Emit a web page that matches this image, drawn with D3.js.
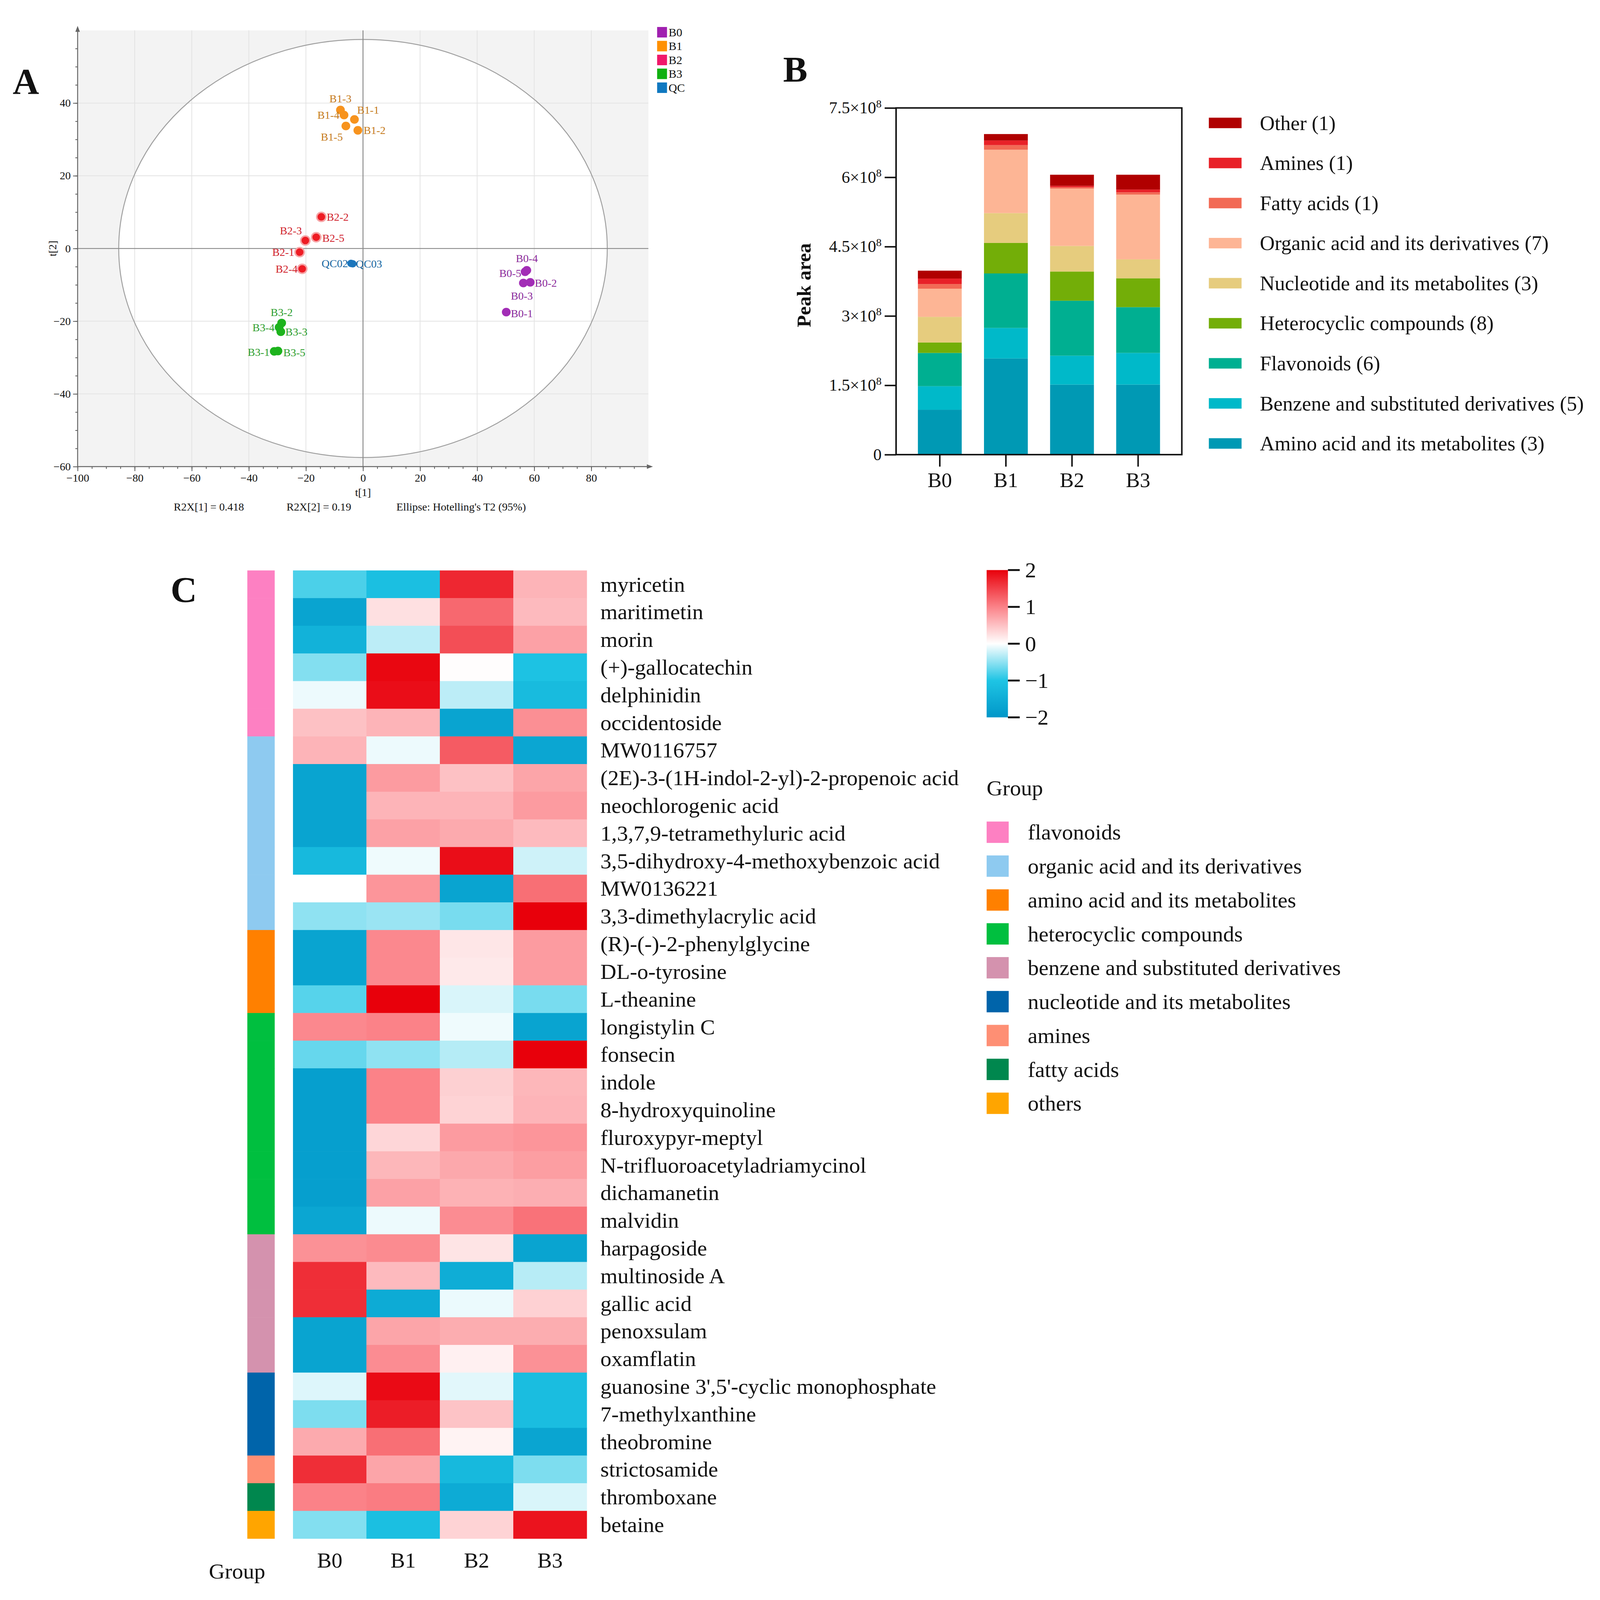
<!DOCTYPE html>
<html>
<head>
<meta charset="utf-8">
<script src="https://cdn.jsdelivr.net/npm/d3@7"></script>
<style>
  html, body { margin: 0; padding: 0; background: #fff; overflow: hidden; }
  #fig { display: block; width: 100vw; height: 100vh; }
  text { font-family: "Liberation Serif", "Times New Roman", serif; fill: #111; }
</style>
</head>
<body>
<svg id="fig" viewBox="0 0 4205 4269" preserveAspectRatio="none"></svg>
<script>
// ---------- panel A: PCA scores ----------
const sampleNames = ['B0-1', 'B0-2', 'B0-3', 'B0-4', 'B0-5',
  'B1-1', 'B1-2', 'B1-3', 'B1-4', 'B1-5',
  'B2-1', 'B2-2', 'B2-3', 'B2-4', 'B2-5',
  'B3-1', 'B3-2', 'B3-3', 'B3-4', 'B3-5',
  'QC02', 'QC03']
const sampleGroup = ['B0', 'B0', 'B0', 'B0', 'B0', 'B1', 'B1', 'B1', 'B1', 'B1',
  'B2', 'B2', 'B2', 'B2', 'B2', 'B3', 'B3', 'B3', 'B3', 'B3', 'QC', 'QC']
const t1 = [50.2, 58.6, 56.2, 57.4, 56.8, -3.0, -1.8, -7.9, -6.65, -6.0,
  -22.2, -14.6, -20.2, -21.3, -16.4, -31.1, -28.5, -28.8, -29.4, -29.8, -4.2, -3.6]
const t2 = [-17.5, -9.3, -9.5, -6.0, -6.4, 35.5, 32.5, 38.1, 36.7, 33.7,
  -1.0, 8.7, 2.2, -5.6, 3.1, -28.3, -20.5, -22.9, -21.7, -28.2, -4.1, -4.2]
const pcaGroups = ['B0', 'B1', 'B2', 'B3', 'QC']
const ellipseT1 = 85.6
const ellipseT2 = 57.5
const pcaXTicks = [-100, -80, -60, -40, -20, 0, 20, 40, 60, 80]
const pcaYTicks = [-60, -40, -20, 0, 20, 40]

// ---------- panel B: peak area by class ----------
const barGroups = ['B0', 'B1', 'B2', 'B3']
const classKeys = ['amino', 'benzene', 'flavonoids', 'heterocyclic', 'nucleotide', 'organic', 'fatty', 'amines', 'other']
const classLabels = ['Amino acid and its metabolites (3)', 'Benzene and substituted derivatives (5)',
  'Flavonoids (6)', 'Heterocyclic compounds (8)', 'Nucleotide and its metabolites (3)',
  'Organic acid and its derivatives (7)', 'Fatty acids (1)', 'Amines (1)', 'Other (1)']
// peak area, x 1e8, one value per group B0..B3
const amino = [0.97, 2.08, 1.515, 1.515]
const benzene = [0.51, 0.66, 0.625, 0.685]
const flavonoids = [0.72, 1.18, 1.19, 0.99]
const heterocyclic = [0.225, 0.66, 0.63, 0.625]
const nucleotide = [0.555, 0.645, 0.555, 0.41]
const organic = [0.61, 1.37, 1.24, 1.40]
const fatty = [0.10, 0.10, 0.03, 0.05]
const amines = [0.12, 0.10, 0.03, 0.06]
const other = [0.17, 0.14, 0.24, 0.32]
const peakTicks = [0, 1.5e8, 3e8, 4.5e8, 6e8, 7.5e8]

// ---------- panel C: heatmap ----------
const metabolites = ['myricetin', 'maritimetin', 'morin', '(+)-gallocatechin', 'delphinidin', 'occidentoside',
  'MW0116757', '(2E)-3-(1H-indol-2-yl)-2-propenoic acid', 'neochlorogenic acid', '1,3,7,9-tetramethyluric acid',
  '3,5-dihydroxy-4-methoxybenzoic acid', 'MW0136221', '3,3-dimethylacrylic acid',
  '(R)-(-)-2-phenylglycine', 'DL-o-tyrosine', 'L-theanine',
  'longistylin C', 'fonsecin', 'indole', '8-hydroxyquinoline', 'fluroxypyr-meptyl',
  'N-trifluoroacetyladriamycinol', 'dichamanetin', 'malvidin',
  'harpagoside', 'multinoside A', 'gallic acid', 'penoxsulam', 'oxamflatin',
  "guanosine 3',5'-cyclic monophosphate", '7-methylxanthine', 'theobromine',
  'strictosamide', 'thromboxane', 'betaine']
const metaboliteClass = ['flavonoids', 'flavonoids', 'flavonoids', 'flavonoids', 'flavonoids', 'flavonoids',
  'organic acid and its derivatives', 'organic acid and its derivatives', 'organic acid and its derivatives',
  'organic acid and its derivatives', 'organic acid and its derivatives', 'organic acid and its derivatives',
  'organic acid and its derivatives',
  'amino acid and its metabolites', 'amino acid and its metabolites', 'amino acid and its metabolites',
  'heterocyclic compounds', 'heterocyclic compounds', 'heterocyclic compounds', 'heterocyclic compounds',
  'heterocyclic compounds', 'heterocyclic compounds', 'heterocyclic compounds', 'heterocyclic compounds',
  'benzene and substituted derivatives', 'benzene and substituted derivatives', 'benzene and substituted derivatives',
  'benzene and substituted derivatives', 'benzene and substituted derivatives',
  'nucleotide and its metabolites', 'nucleotide and its metabolites', 'nucleotide and its metabolites',
  'amines', 'fatty acids', 'others']
// z-scores, columns B0 B1 B2 B3
const zScores = [
  [-0.8, -1.1, 1.7, 0.6], [-1.7, 0.25, 1.2, 0.55], [-1.4, -0.3, 1.4, 0.75], [-0.55, 1.95, 0.02, -1.05],
  [-0.08, 1.9, -0.3, -1.2], [0.5, 0.6, -1.7, 0.9], [0.6, -0.08, 1.3, -1.65], [-1.7, 0.8, 0.5, 0.72],
  [-1.7, 0.6, 0.6, 0.8], [-1.7, 0.75, 0.68, 0.55], [-1.25, -0.07, 1.9, -0.22], [0.0, 0.85, -1.7, 1.15],
  [-0.5, -0.45, -0.6, 2.0], [-1.7, 0.95, 0.2, 0.8], [-1.7, 0.95, 0.18, 0.8], [-0.75, 2.0, -0.17, -0.6],
  [0.95, 1.0, -0.07, -1.7], [-0.68, -0.5, -0.33, 2.0], [-1.8, 1.0, 0.38, 0.58], [-1.8, 1.0, 0.35, 0.6],
  [-1.8, 0.33, 0.8, 0.85], [-1.8, 0.58, 0.7, 0.78], [-1.8, 0.75, 0.62, 0.65], [-1.65, -0.08, 0.92, 1.12],
  [0.88, 0.93, 0.22, -1.7], [1.65, 0.55, -1.5, -0.32], [1.65, -1.55, -0.09, 0.37], [-1.7, 0.72, 0.66, 0.66],
  [-1.7, 0.92, 0.12, 0.88], [-0.15, 1.92, -0.13, -1.15], [-0.58, 1.78, 0.48, -1.15], [0.68, 1.15, 0.1, -1.68],
  [1.65, 0.72, -1.25, -0.58], [1.0, 1.05, -1.55, -0.17], [-0.55, -1.1, 0.35, 1.85]]
const classOrder = ['flavonoids', 'organic acid and its derivatives', 'amino acid and its metabolites',
  'heterocyclic compounds', 'benzene and substituted derivatives', 'nucleotide and its metabolites',
  'amines', 'fatty acids', 'others']
const colorbarTicks = [2, 1, 0, -1, -2]

// ---------- styles / layout ----------
const pointColor = { B0: '#a22db6', B1: '#f7931e', B2: '#ee1c24', B3: '#1db31d', QC: '#1a75bc' }
const legendColor = { B0: '#a020b0', B1: '#ff9000', B2: '#f0186a', B3: '#10b010', QC: '#1078c0' }
const labelColor = { B0: '#8b2a9b', B1: '#c57a1a', B2: '#d0202a', B3: '#2e9e2e', QC: '#1565a0' }
// label placement per sample: anchor, dx, dy (px)
const labelPlace = {
  'B0-1': ['start', 12, 4], 'B0-2': ['start', 12, 2], 'B0-3': ['middle', -4, 34], 'B0-4': ['middle', 0, -32],
  'B0-5': ['end', -10, 4], 'B1-1': ['start', 7, -25], 'B1-2': ['start', 15, 0], 'B1-3': ['middle', 0, -30],
  'B1-4': ['end', -12, 0], 'B1-5': ['middle', -37, 29], 'B2-1': ['end', -14, 0], 'B2-2': ['start', 14, 0],
  'B2-3': ['middle', -38, -26], 'B2-4': ['end', -12, 0], 'B2-5': ['start', 16, 2], 'B3-1': ['end', -12, 2],
  'B3-2': ['middle', 0, -28], 'B3-3': ['start', 12, 0], 'B3-4': ['end', -12, 0], 'B3-5': ['start', 14, 4],
  'QC02': ['end', -8, 0], 'QC03': ['start', 8, 0]
}
const classColor = {
  amino: '#0099b4', benzene: '#00b9c9', flavonoids: '#00af91', heterocyclic: '#73ae08', nucleotide: '#e6cc7e',
  organic: '#fdb595', fatty: '#f26a55', amines: '#e82128', other: '#b00000'
}
const groupColor = {
  'flavonoids': '#fd80c2', 'organic acid and its derivatives': '#8ecaf0', 'amino acid and its metabolites': '#ff8000',
  'heterocyclic compounds': '#00bf3f', 'benzene and substituted derivatives': '#d492ae',
  'nucleotide and its metabolites': '#0064aa', 'amines': '#fe8f74', 'fatty acids': '#00874e', 'others': '#ffa500'
}

const svg = d3.select('#fig')
svg.append('rect').attr('width', 4205).attr('height', 4269).attr('fill', '#fff')

function panelLabel (txt, x, y) {
  svg.append('text').attr('x', x).attr('y', y).attr('text-anchor', 'middle')
    .attr('font-size', 96).attr('font-weight', 'bold').text(txt)
}

// ================= A =================
const ax = d3.scaleLinear().domain([-100, 100]).range([204, 1704])
const ay = d3.scaleLinear().domain([-60, 60]).range([1245, 81])
const gA = svg.append('g')

gA.append('rect').attr('x', ax(-100)).attr('y', ay(60))
  .attr('width', ax(100) - ax(-100)).attr('height', ay(-60) - ay(60)).attr('fill', '#f3f3f3')
gA.append('ellipse').attr('cx', ax(0)).attr('cy', ay(0))
  .attr('rx', ax(ellipseT1) - ax(0)).attr('ry', ay(0) - ay(ellipseT2)).attr('fill', '#fff')

// grid
gA.selectAll('line.gx').data(d3.range(-80, 81, 20).filter(d => d !== 0)).join('line')
  .attr('x1', d => ax(d)).attr('x2', d => ax(d)).attr('y1', ay(60)).attr('y2', ay(-60))
  .attr('stroke', '#e3e3e3').attr('stroke-width', 2)
gA.selectAll('line.gy').data([-40, -20, 20, 40]).join('line')
  .attr('x1', ax(-100)).attr('x2', ax(100)).attr('y1', d => ay(d)).attr('y2', d => ay(d))
  .attr('stroke', '#e3e3e3').attr('stroke-width', 2)

gA.append('ellipse').attr('cx', ax(0)).attr('cy', ay(0))
  .attr('rx', ax(ellipseT1) - ax(0)).attr('ry', ay(0) - ay(ellipseT2))
  .attr('fill', 'none').attr('stroke', '#a0a0a0').attr('stroke-width', 2.5)

// zero lines
gA.append('line').attr('x1', ax(-100)).attr('x2', ax(100)).attr('y1', ay(0)).attr('y2', ay(0))
  .attr('stroke', '#8c8c8c').attr('stroke-width', 2.5)
gA.append('line').attr('x1', ax(0)).attr('x2', ax(0)).attr('y1', ay(60)).attr('y2', ay(-60))
  .attr('stroke', '#8c8c8c').attr('stroke-width', 2.5)

// axes
function styleAxis (g, size) {
  g.select('.domain').remove()
  g.selectAll('line').attr('stroke', '#555').attr('stroke-width', 2)
  g.selectAll('text').attr('font-size', size).attr('fill', '#222')
    .attr('font-family', '"Liberation Serif", "Times New Roman", serif')
}
const axMinor = gA.append('g').attr('transform', `translate(0,${ay(-60)})`)
  .call(d3.axisBottom(ax).tickValues(d3.range(-100, 100, 5)).tickSize(6).tickFormat(''))
styleAxis(axMinor, 29)
const axMajor = gA.append('g').attr('transform', `translate(0,${ay(-60)})`)
  .call(d3.axisBottom(ax).tickValues(pcaXTicks).tickSize(12).tickPadding(8))
styleAxis(axMajor, 29)
const ayMinor = gA.append('g').attr('transform', `translate(${ax(-100)},0)`)
  .call(d3.axisLeft(ay).tickValues(d3.range(-60, 60, 5)).tickSize(6).tickFormat(''))
styleAxis(ayMinor, 29)
const ayMajor = gA.append('g').attr('transform', `translate(${ax(-100)},0)`)
  .call(d3.axisLeft(ay).tickValues(pcaYTicks).tickSize(12).tickPadding(6))
styleAxis(ayMajor, 29)

// axis lines with arrows
gA.append('line').attr('x1', ax(-100)).attr('x2', ax(100)).attr('y1', ay(-60)).attr('y2', ay(-60))
  .attr('stroke', '#666').attr('stroke-width', 2.5)
gA.append('line').attr('x1', ax(-100)).attr('x2', ax(-100)).attr('y1', ay(-60)).attr('y2', ay(60))
  .attr('stroke', '#666').attr('stroke-width', 2.5)
gA.append('path').attr('d', `M${ax(100) + 12},${ay(-60)} l-16,-6 l0,12 z`).attr('fill', '#666')
gA.append('path').attr('d', `M${ax(-100)},${ay(60) - 12} l-6,16 l12,0 z`).attr('fill', '#666')

// axis titles
gA.append('text').attr('x', ax(0)).attr('y', 1324).attr('text-anchor', 'middle')
  .attr('font-size', 29).attr('fill', '#222').text('t[1]')
gA.append('text').attr('transform', `translate(148,${ay(0)}) rotate(-90)`).attr('text-anchor', 'middle')
  .attr('font-size', 29).attr('fill', '#222').text('t[2]')
gA.append('text').attr('x', 549).attr('y', 1362).attr('text-anchor', 'middle').attr('font-size', 29)
  .text('R2X[1] = 0.418')
gA.append('text').attr('x', 838).attr('y', 1362).attr('text-anchor', 'middle').attr('font-size', 29)
  .text('R2X[2] = 0.19')
gA.append('text').attr('x', 1212).attr('y', 1362).attr('text-anchor', 'middle').attr('font-size', 29)
  .text("Ellipse: Hotelling's T2 (95%)")

// points
const samples = sampleNames.map((n, i) => ({ name: n, group: sampleGroup[i], x: t1[i], y: t2[i] }))
gA.selectAll('circle.pt').data(samples).join('circle')
  .attr('cx', d => ax(d.x)).attr('cy', d => ay(d.y))
  .attr('r', d => d.group === 'B2' ? 12 : d.group === 'QC' ? 10 : 11.5)
  .attr('fill', d => pointColor[d.group])
  .attr('stroke', d => d.group === 'B2' ? '#f6a4a6' : 'none')
  .attr('stroke-width', d => d.group === 'B2' ? 4 : 0)
gA.selectAll('text.pl').data(samples).join('text')
  .attr('x', d => ax(d.x) + labelPlace[d.name][1])
  .attr('y', d => ay(d.y) + labelPlace[d.name][2])
  .attr('text-anchor', d => labelPlace[d.name][0])
  .attr('dominant-baseline', 'central')
  .attr('font-size', 29)
  .style('fill', d => labelColor[d.group])
  .text(d => d.name)

// legend A
const legA = gA.append('g').attr('transform', 'translate(1727,72)')
pcaGroups.forEach((g, i) => {
  legA.append('rect').attr('x', 0).attr('y', i * 37).attr('width', 26).attr('height', 28).attr('fill', legendColor[g])
  legA.append('text').attr('x', 30).attr('y', i * 37 + 14).attr('dominant-baseline', 'central')
    .attr('font-size', 31).text(g)
})
panelLabel('A', 68, 250)

// ================= B =================
const bx = d3.scaleBand().domain(barGroups).range([2355, 3106]).paddingInner(0.337).paddingOuter(0.33)
const by = d3.scaleLinear().domain([0, 7.5e8]).range([1213, 288])
const gB = svg.append('g')
const classSeries = { amino, benzene, flavonoids, heterocyclic, nucleotide, organic, fatty, amines, other }
const barRows = barGroups.map((g, i) => {
  const row = { group: g }
  classKeys.forEach(k => { row[k] = classSeries[k][i] * 1e8 })
  return row
})
const stacked = d3.stack().keys(classKeys)(barRows)
gB.selectAll('g.layer').data(stacked).join('g').attr('fill', d => classColor[d.key])
  .selectAll('rect').data(d => d).join('rect')
  .attr('x', d => bx(d.data.group)).attr('width', bx.bandwidth())
  .attr('y', d => by(d[1])).attr('height', d => by(d[0]) - by(d[1]))

gB.append('rect').attr('x', 2355).attr('y', 288).attr('width', 3106 - 2355).attr('height', 1213 - 288)
  .attr('fill', 'none').attr('stroke', '#111').attr('stroke-width', 4)

const byAxis = gB.append('g').attr('transform', 'translate(2355,0)')
  .call(d3.axisLeft(by).tickValues(peakTicks).tickSize(30).tickPadding(8).tickFormat(''))
byAxis.select('.domain').remove()
byAxis.selectAll('line').attr('stroke', '#111').attr('stroke-width', 4)
byAxis.selectAll('.tick text').attr('font-size', 44).attr('fill', '#111')
  .attr('font-family', '"Liberation Serif", "Times New Roman", serif')
  .each(function (d) {
    const t = d3.select(this)
    if (d === 0) { t.text('0'); return }
    t.append('tspan').text(`${d / 1e8}\u00d710`)
    t.append('tspan').attr('font-size', 29).attr('dy', -16).text('8')
  })
const bxAxis = gB.append('g').attr('transform', 'translate(0,1213)')
  .call(d3.axisBottom(bx).tickSize(32).tickPadding(16))
bxAxis.select('.domain').remove()
bxAxis.selectAll('line').attr('stroke', '#111').attr('stroke-width', 4)
bxAxis.selectAll('text').attr('font-size', 55).attr('fill', '#111')
  .attr('font-family', '"Liberation Serif", "Times New Roman", serif')

gB.append('text').attr('transform', 'translate(2130,761) rotate(-90)').attr('text-anchor', 'middle')
  .attr('font-size', 53).attr('font-weight', 'bold').text('Peak area')

const legB = gB.append('g').attr('transform', 'translate(3177,328)')
const legOrder = classKeys.slice().reverse()
legOrder.forEach((k, i) => {
  legB.append('rect').attr('x', 0).attr('y', i * 106.9 - 14).attr('width', 86).attr('height', 28)
    .attr('fill', classColor[k])
  legB.append('text').attr('x', 134).attr('y', i * 106.9).attr('dominant-baseline', 'central')
    .attr('font-size', 54).text(classLabels[classKeys.indexOf(k)])
})
panelLabel('B', 2090, 218)

// ================= C =================
const hx = d3.scaleBand().domain(barGroups).range([770, 1542])
const hy = d3.scaleBand().domain(metabolites).range([1522, 4105])
const heatColor = d3.scaleLinear().domain([-2, -1, 0, 1, 2])
  .range(['#0096c8', '#1ec4e4', '#ffffff', '#fb8288', '#e8000b']).clamp(true)
const gC = svg.append('g')
const cells = []
metabolites.forEach((m, i) => barGroups.forEach((g, j) => cells.push({ m, g, v: zScores[i][j] })))
gC.selectAll('rect.cell').data(cells).join('rect')
  .attr('x', d => hx(d.g)).attr('y', d => hy(d.m))
  .attr('width', hx.bandwidth() + 0.6).attr('height', hy.bandwidth() + 0.6)
  .attr('fill', d => heatColor(d.v))

gC.selectAll('rect.ann').data(metabolites).join('rect')
  .attr('x', 650).attr('width', 72).attr('y', d => hy(d)).attr('height', hy.bandwidth() + 0.6)
  .attr('fill', (d, i) => groupColor[metaboliteClass[i]])

gC.selectAll('text.row').data(metabolites).join('text')
  .attr('x', 1578).attr('y', d => hy(d) + hy.bandwidth() / 2).attr('dominant-baseline', 'central')
  .attr('font-size', 58).text(d => d)
gC.selectAll('text.col').data(barGroups).join('text')
  .attr('x', d => hx(d) + hx.bandwidth() / 2).attr('y', 4183).attr('text-anchor', 'middle')
  .attr('font-size', 57).text(d => d)
gC.append('text').attr('x', 623).attr('y', 4212).attr('text-anchor', 'middle').attr('font-size', 58).text('Group')

// colour key
const cy = d3.scaleLinear().domain([-2, 2]).range([1914, 1521])
const grad = svg.append('defs').append('linearGradient').attr('id', 'zgrad')
  .attr('x1', 0).attr('y1', 1).attr('x2', 0).attr('y2', 0)
d3.range(-2, 2.01, 0.25).forEach(v => {
  grad.append('stop').attr('offset', (v + 2) / 4).attr('stop-color', heatColor(v))
})
gC.append('rect').attr('x', 2593).attr('y', cy(2)).attr('width', 56).attr('height', cy(-2) - cy(2))
  .attr('fill', 'url(#zgrad)')
gC.selectAll('line.cb').data(colorbarTicks).join('line')
  .attr('x1', 2649).attr('x2', 2680).attr('y1', d => cy(d)).attr('y2', d => cy(d))
  .attr('stroke', '#111').attr('stroke-width', 5)
gC.selectAll('text.cb').data(colorbarTicks).join('text')
  .attr('x', 2694).attr('y', d => cy(d)).attr('dominant-baseline', 'central')
  .attr('font-size', 58).text(d => d < 0 ? '\u2212' + Math.abs(d) : String(d))

// group legend
gC.append('text').attr('x', 2593).attr('y', 2122).attr('font-size', 58).text('Group')
classOrder.forEach((c, i) => {
  gC.append('rect').attr('x', 2593).attr('y', 2192 + i * 90.4).attr('width', 58).attr('height', 57)
    .attr('fill', groupColor[c])
  gC.append('text').attr('x', 2701).attr('y', 2192 + i * 90.4 + 28.5).attr('dominant-baseline', 'central')
    .attr('font-size', 58).text(c)
})
panelLabel('C', 483, 1606)
</script>
</body>
</html>
